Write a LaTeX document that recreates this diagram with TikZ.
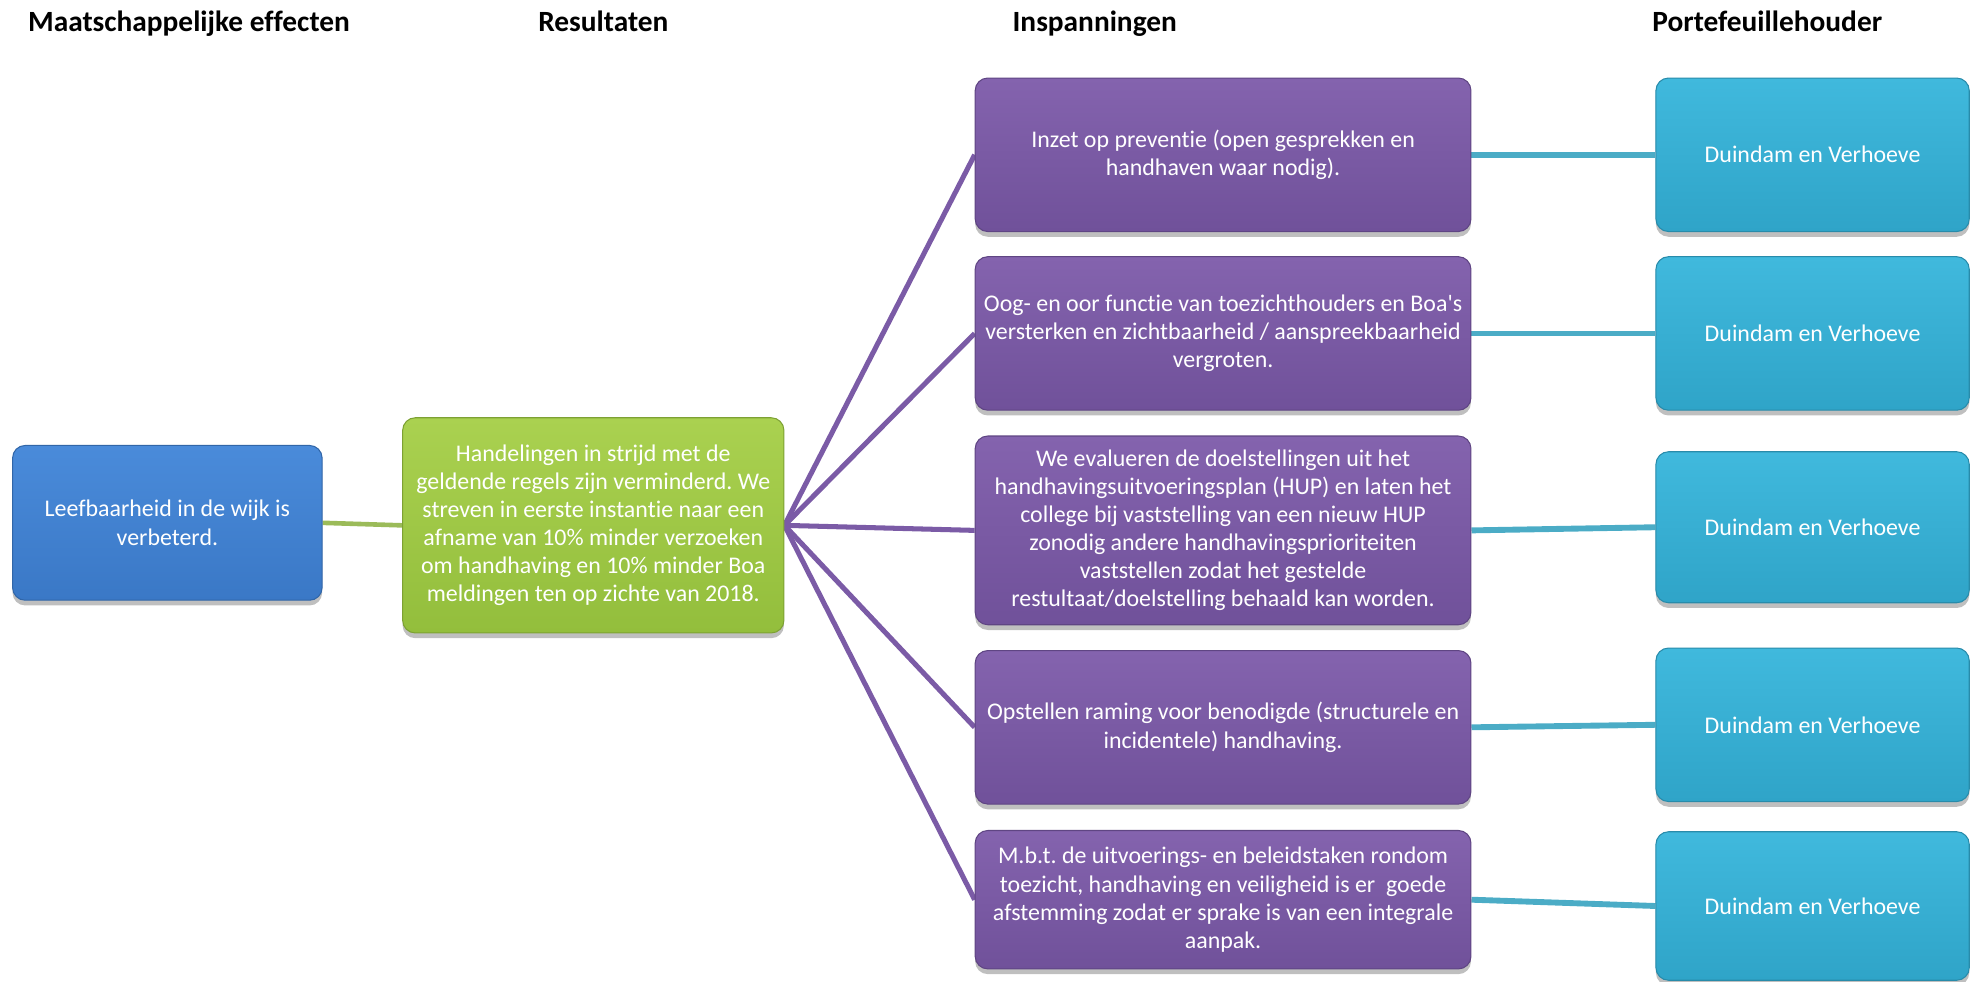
\documentclass[tikz,border=0pt]{standalone}
\usepackage{fontspec}
\setmainfont{Carlito}[Ligatures={CommonOff,TeXOff}]
\usetikzlibrary{shadows}
\frenchspacing
\definecolor{bluebase}{HTML}{3A78C6}
\definecolor{bluetop}{HTML}{4A8BDA}
\definecolor{greenbase}{HTML}{93BE3C}
\definecolor{greentop}{HTML}{AAD150}
\definecolor{purplebase}{HTML}{70519A}
\definecolor{purpletop}{HTML}{8463AE}
\definecolor{cyanbase}{HTML}{2FA4C8}
\definecolor{cyantop}{HTML}{40B9DD}
\definecolor{greenline}{HTML}{9BBB59}
\definecolor{purpleline}{HTML}{7B5BA6}
\definecolor{cyanline}{HTML}{4BACC6}
\pgfdeclarelayer{bg}
\pgfsetlayers{bg,main}
\tikzset{
  boxbase/.style={rounded corners=6pt, inner sep=0pt, align=center, text=white,
    font=\fontsize{11.4}{13.4}\selectfont\frenchspacing,
    drop shadow={shadow xshift=0pt, shadow yshift=-2.5pt, opacity=0.25, fill=black}},
  bluebox/.style={boxbase, top color=bluetop, bottom color=bluebase, draw=bluebase!85!black, line width=0.5pt},
  greenbox/.style={boxbase, top color=greentop, bottom color=greenbase, draw=greenbase!85!black, line width=0.5pt},
  purplebox/.style={boxbase, top color=purpletop, bottom color=purplebase, draw=purplebase!85!black, line width=0.5pt, minimum width=236.4pt},
  cyanbox/.style={boxbase, top color=cyantop, bottom color=cyanbase, draw=cyanbase!85!black, line width=0.5pt, minimum width=149.4pt},
  header/.style={font=\fontsize{14}{16}\selectfont\bfseries, inner sep=0pt, anchor=base},
  gline/.style={draw=greenline, line width=2.2pt},
  pline/.style={draw=purpleline, line width=2.4pt},
  cline/.style={draw=cyanline, line width=2.8pt}
}
\begin{document}
\begin{tikzpicture}[x=0.6pt,y=-0.6pt]
\useasboundingbox (0,0) rectangle (1568,780.4);

% headers
\node[header, anchor=base west] (h1) at (22,25) {Maatschappelijke effecten};
\node[header] (h2) at (479.5,25) {Resultaten};
\node[header] (h3) at (870,25) {Inspanningen};
\node[header] (h4) at (1404.5,25) {Portefeuillehouder};

% left boxes
\node[bluebox, minimum width=147.6pt, minimum height=73.8pt] (blue) at (133,415.5)
  {Leefbaarheid in de wijk is\\verbeterd.};
\node[greenbox, minimum width=181.8pt, minimum height=102.6pt] (green) at (471.5,417.5)
  {Handelingen in strijd met de\\geldende regels zijn verminderd. We\\streven in eerste instantie naar een\\afname van 10\% minder verzoeken\\om handhaving en 10\% minder Boa\\meldingen ten op zichte van 2018.};

% purple boxes
\node[purplebox, minimum height=73.2pt] (p1) at (972,123)
  {Inzet op preventie (open gesprekken en\\handhaven waar nodig).};
\node[purplebox, minimum height=73.2pt] (p2) at (972,265)
  {Oog- en oor functie van toezichthouders en Boa's\\versterken en zichtbaarheid / aanspreekbaarheid\\vergroten.};
\node[purplebox, minimum height=90pt] (p3) at (972,421.5)
  {We evalueren de doelstellingen uit het\\handhavingsuitvoeringsplan (HUP) en laten het\\college bij vaststelling van een nieuw HUP\\zonodig andere handhavingsprioriteiten\\vaststellen zodat het gestelde\\restultaat/doelstelling behaald kan worden.};
\node[purplebox, minimum height=73.2pt] (p4) at (972,578)
  {Opstellen raming voor benodigde (structurele en\\incidentele) handhaving.};
\node[purplebox, minimum height=66pt] (p5) at (972,715)
  {M.b.t. de uitvoerings- en beleidstaken rondom\\toezicht, handhaving en veiligheid is er\ \ goede\\afstemming zodat er sprake is van een integrale\\aanpak.};

% cyan boxes
\node[cyanbox, minimum height=73.2pt] (c1) at (1440.5,123) {Duindam en Verhoeve};
\node[cyanbox, minimum height=73.2pt] (c2) at (1440.5,265) {Duindam en Verhoeve};
\node[cyanbox, minimum height=72pt] (c3) at (1440.5,419) {Duindam en Verhoeve};
\node[cyanbox, minimum height=73.2pt] (c4) at (1440.5,576) {Duindam en Verhoeve};
\node[cyanbox, minimum height=70.8pt] (c5) at (1440.5,720) {Duindam en Verhoeve};

% connectors
\begin{pgfonlayer}{bg}
\draw[gline] (blue.east) -- (green.west);
\foreach \p in {p1,p2,p3,p4,p5} \draw[pline] (green.east) -- (\p.west);
\draw[cline] (p1.east) -- (c1.west);
\draw[cline] (p2.east) -- (c2.west);
\draw[cline] (p3.east) -- (c3.west);
\draw[cline] (p4.east) -- (c4.west);
\draw[cline] (p5.east) -- (c5.west);
\end{pgfonlayer}
\end{tikzpicture}
\end{document}
